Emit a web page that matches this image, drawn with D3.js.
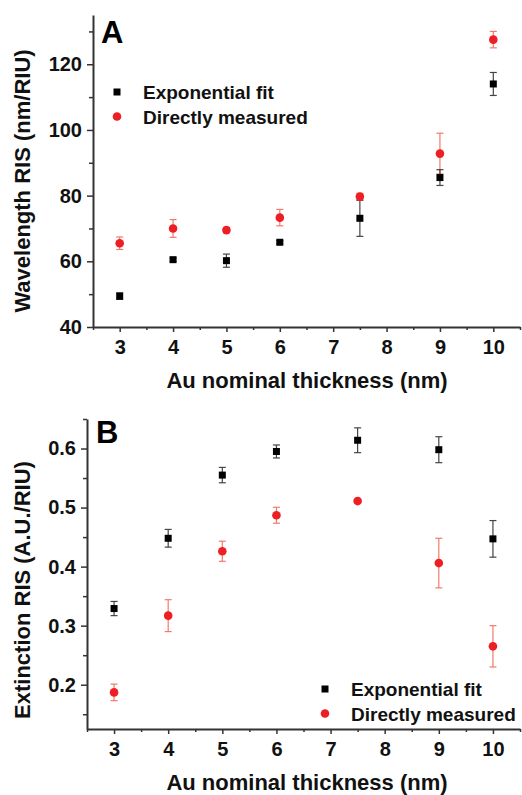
<!DOCTYPE html>
<html>
<head>
<meta charset="utf-8">
<script src="https://cdn.jsdelivr.net/npm/d3@7"></script>
<style>
  body { margin: 0; background: #fff; }
  svg { display: block; font-family: Arial, "Liberation Sans", sans-serif; }
</style>
</head>
<body>
<svg id="chart" width="522" height="795"></svg>
<script>
// Au nominal thickness (nm)
const thickness = [3, 4, 5, 6, 7.5, 9, 10];
const xTicks = [3, 4, 5, 6, 7, 8, 9, 10];

// Panel A: wavelength RIS (nm/RIU)
const wlFit = [49.4, 60.5, 60.2, 65.8, 73.1, 85.5, 114.0];
const wlFitErr = [1.0, 0.5, 2.0, 0.5, 5.5, 2.4, 3.5];
const wlMeas = [65.5, 70.0, 69.5, 73.3, 79.7, 92.8, 127.5];
const wlMeasErr = [1.9, 2.7, 0.8, 2.5, 1.0, 6.2, 2.5];
const wlTicks = [40, 60, 80, 100, 120];

// Panel B: extinction RIS (A.U./RIU)
const exFit = [0.329, 0.448, 0.555, 0.595, 0.614, 0.598, 0.447];
const exFitErr = [0.012, 0.015, 0.013, 0.011, 0.021, 0.022, 0.031];
const exMeas = [0.187, 0.317, 0.426, 0.487, 0.511, 0.406, 0.265];
const exMeasErr = [0.014, 0.027, 0.017, 0.0135, 0.003, 0.042, 0.035];
const exTicks = [0.2, 0.3, 0.4, 0.5, 0.6];

const seriesNames = ['Exponential fit', 'Directly measured'];

const BLACK = '#000';
const RED = '#ee1f24';
const RED_ERR = '#f27a6a';
const AXIS = '#333';

const svg = d3.select('#chart');

function drawPanel(opt) {
  const g = svg.append('g');
  const x = d3.scaleLinear().domain([2.5, 10.5]).range([opt.left, 520]);
  const y = d3.scaleLinear().domain(opt.yDomain).range([opt.bottom, opt.top]);

  // x axis
  const xMinor = d3.range(2.5, 10.51, 0.5).filter(v => !xTicks.includes(v));
  g.append('g').attr('transform', `translate(0,${opt.bottom})`)
    .call(d3.axisBottom(x).tickValues(xMinor).tickSize(3).tickFormat(''))
    .call(a => a.select('.domain').remove());
  g.append('g').attr('transform', `translate(0,${opt.bottom})`)
    .call(d3.axisBottom(x).tickValues(xTicks).tickSize(5).tickSizeOuter(0).tickPadding(8).tickFormat(d3.format('d')));

  // y axis
  g.append('g').attr('transform', `translate(${opt.left},0)`)
    .call(d3.axisLeft(y).tickValues(opt.yMinor).tickSize(4).tickFormat(''))
    .call(a => a.select('.domain').remove());
  g.append('g').attr('transform', `translate(${opt.left},0)`)
    .call(d3.axisLeft(y).tickValues(opt.yTicks).tickSize(6).tickSizeOuter(0).tickPadding(5).tickFormat(opt.fmt));

  g.selectAll('.domain').attr('stroke', AXIS).attr('stroke-width', 2);
  g.selectAll('.tick line').attr('stroke', AXIS).attr('stroke-width', 1.5);
  g.selectAll('.tick text').attr('fill', '#111')
    .style('font-size', '20px').style('font-weight', 'bold')
    .style('font-family', 'Arial, "Liberation Sans", sans-serif');

  // error bars
  const series = [
    { vals: opt.meas, errs: opt.measErr, errColor: RED_ERR },
    { vals: opt.fit, errs: opt.fitErr, errColor: '#444' }
  ];
  series.forEach(s => {
    const data = thickness.map((t, i) => ({ t, v: s.vals[i], e: s.errs[i] }));
    const eb = g.append('g').selectAll('g').data(data).enter().append('g')
      .attr('stroke', s.errColor).attr('stroke-width', 1.2);
    eb.append('line')
      .attr('x1', d => x(d.t)).attr('x2', d => x(d.t))
      .attr('y1', d => y(d.v - d.e)).attr('y2', d => y(d.v + d.e));
    [-1, 1].forEach(sign => {
      eb.append('line')
        .attr('x1', d => x(d.t) - 3.5).attr('x2', d => x(d.t) + 3.5)
        .attr('y1', d => y(d.v + sign * d.e)).attr('y2', d => y(d.v + sign * d.e));
    });
  });

  // markers
  const measData = thickness.map((t, i) => ({ t, v: opt.meas[i] }));
  const fitData = thickness.map((t, i) => ({ t, v: opt.fit[i] }));
  g.append('g').selectAll('circle').data(measData).enter().append('circle')
    .attr('cx', d => x(d.t)).attr('cy', d => y(d.v)).attr('r', 4.3).attr('fill', RED);
  g.append('g').selectAll('rect').data(fitData).enter().append('rect')
    .attr('x', d => x(d.t) - 3.5).attr('y', d => y(d.v) - 3.5)
    .attr('width', 7).attr('height', 7).attr('fill', BLACK);

  // panel letter
  g.append('text').attr('x', opt.letterX).attr('y', opt.letterY)
    .style('font-size', '31px').style('font-weight', 'bold').text(opt.letter);

  // legend
  const leg = g.append('g').attr('transform', `translate(${opt.legX},${opt.legY})`);
  leg.append('rect').attr('x', -3.5).attr('y', -3.5).attr('width', 7).attr('height', 7).attr('fill', BLACK);
  leg.append('circle').attr('cx', 0).attr('cy', 24.5).attr('r', 4.3).attr('fill', RED);
  seriesNames.forEach((name, i) => {
    leg.append('text').attr('x', 26).attr('y', i * 24.5 + 7)
      .style('font-size', '19px').style('font-weight', 'bold').attr('fill', '#111').text(name);
  });

  // axis titles
  g.append('text').attr('x', 307).attr('y', opt.bottom + 61)
    .attr('text-anchor', 'middle')
    .style('font-size', '22px').style('font-weight', 'bold').attr('fill', '#111')
    .text('Au nominal thickness (nm)');
  g.append('text')
    .attr('transform', `translate(24,${opt.yTitleY}) rotate(-90)`)
    .attr('text-anchor', 'middle').attr('dominant-baseline', 'middle')
    .style('font-size', '22px').style('font-weight', 'bold').attr('fill', '#111')
    .text(opt.yTitle);
}

drawPanel({
  left: 93, top: 15, bottom: 327,
  yDomain: [40, 135], yTicks: wlTicks, yMinor: [50, 70, 90, 110, 130],
  fmt: d3.format('d'),
  fit: wlFit, fitErr: wlFitErr, meas: wlMeas, measErr: wlMeasErr,
  letter: 'A', letterX: 101, letterY: 43,
  legX: 117, legY: 92,
  yTitle: 'Wavelength RIS (nm/RIU)', yTitleY: 181
});

drawPanel({
  left: 87, top: 419, bottom: 729,
  yDomain: [0.125, 0.65], yTicks: exTicks, yMinor: [0.15, 0.25, 0.35, 0.45, 0.55, 0.65],
  fmt: d3.format('.1f'),
  fit: exFit, fitErr: exFitErr, meas: exMeas, measErr: exMeasErr,
  letter: 'B', letterX: 96, letterY: 443,
  legX: 325, legY: 689,
  yTitle: 'Extinction RIS (A.U./RIU)', yTitleY: 590
});
</script>
</body>
</html>
